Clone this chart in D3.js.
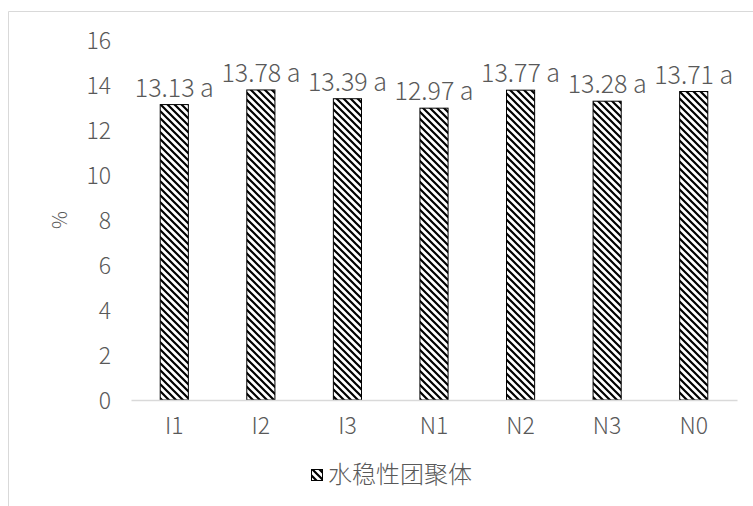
<!DOCTYPE html>
<html><head><meta charset="utf-8">
<script src="https://cdn.jsdelivr.net/npm/d3@7"></script>
<style>
body{margin:0;background:#fff;}
text{font-family:"Noto Sans CJK SC","Noto Sans",sans-serif;fill:#595959;font-weight:300;}
</style></head>
<body>
<svg id="c" width="753" height="506"></svg>
<script>
const categories = ["I1","I2","I3","N1","N2","N3","N0"];
const values = [13.13,13.78,13.39,12.97,13.77,13.28,13.71];
const sigLetters = ["a","a","a","a","a","a","a"];
const yTicks = [0,2,4,6,8,10,12,14,16];
const seriesName = "水稳性团聚体";
const yTitle = "%";

const svg = d3.select("#c");
const defs = svg.append("defs");
const pat = defs.append("pattern").attr("id","hatch").attr("patternUnits","userSpaceOnUse")
  .attr("width",7).attr("height",7);
pat.append("rect").attr("width",7).attr("height",7).attr("fill","#fff");
pat.append("path").attr("d","M-1,-1 L8,8 M-1,6 L1,8 M6,-1 L8,1").attr("stroke","#000").attr("stroke-width",2.2);

// chart border (left & top)
svg.append("path").attr("d","M8.5,506 L8.5,11.5 L753,11.5").attr("fill","none").attr("stroke","#d9d9d9").attr("stroke-width",1);

const x = d3.scaleBand().domain(categories).range([131,737]).paddingInner(0.675).paddingOuter(0.3375);
const y = d3.scaleLinear().domain([0,16]).range([400,40]);

// y axis labels
const yAxis = d3.axisLeft(y).tickValues(yTicks).tickSize(0).tickPadding(0);
const gy = svg.append("g").attr("transform","translate(111,0)").call(yAxis);
gy.select(".domain").remove();
gy.selectAll("text").style("font-size","23px").attr("fill","#595959").attr("dy","0.35em");

// bars
svg.selectAll("rect.bar").data(values).enter().append("rect").attr("class","bar")
  .attr("x",(d,i)=>x(categories[i])).attr("width",x.bandwidth())
  .attr("y",d=>y(d)).attr("height",d=>y(0)-y(d))
  .attr("fill","url(#hatch)").attr("stroke","#000").attr("stroke-width",1);

// x axis
const xAxis = d3.axisBottom(x).tickSize(0).tickPadding(0);
const gx = svg.append("g").attr("transform","translate(0,400)").call(xAxis);
gx.select(".domain").attr("stroke","#d9d9d9").attr("stroke-width",1.5);
gx.selectAll("text").style("font-size","23px").attr("fill","#595959").attr("y",26).attr("dy","0.35em");

// data labels
svg.selectAll("text.lbl").data(values).enter().append("text").attr("class","lbl")
  .attr("x",(d,i)=>x(categories[i])+x.bandwidth()/2)
  .attr("y",d=>y(d)-8)
  .attr("text-anchor","middle").style("font-size","25px")
  .text((d,i)=>d.toFixed(2)+" "+sigLetters[i]);

// y title
svg.append("text").attr("transform","translate(60,220) rotate(-90)").attr("text-anchor","middle")
  .attr("dy","0.35em").style("font-size","20px").text(yTitle);

// legend
const lg = svg.append("g").attr("transform","translate(311,475)");
lg.append("rect").attr("x",0.5).attr("y",-5.5).attr("width",11).attr("height",11)
  .attr("fill","url(#hatch)").attr("stroke","#000").attr("stroke-width",1);
lg.append("text").attr("x",17).attr("dy","0.35em").style("font-size","24px").text(seriesName);
</script>
</body></html>
